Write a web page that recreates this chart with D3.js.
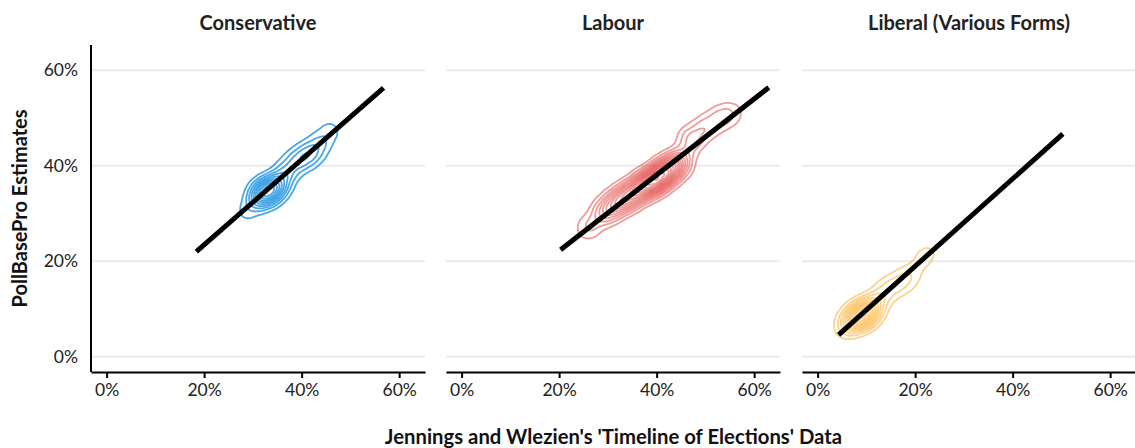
<!DOCTYPE html>
<html>
<head>
<meta charset="utf-8">
<script src="https://cdn.jsdelivr.net/npm/d3@7"></script>
<style>
  body { margin: 0; background: #fff; }
  text { font-family: Lato, "Open Sans", sans-serif; }
</style>
</head>
<body>
<svg id="chart" width="1135" height="448"></svg>
<script>
// facets
var parties = ["Conservative", "Labour", "Liberal (Various Forms)"];
var partyColours = ["#0087DC", "#DC241F", "#FAA61A"];
var partyOpacity = [0.72, 0.45, 0.5];
var tickValues = [0, 0.2, 0.4, 0.6];

// density centres [x, y, weight]
var conDensity = [
    [0.285, 0.30, 1], [0.31, 0.33, 3], [0.325, 0.345, 5], [0.34, 0.35, 4],
    [0.355, 0.365, 3], [0.37, 0.39, 2], [0.39, 0.41, 2], [0.41, 0.42, 2],
    [0.425, 0.43, 1.6], [0.44, 0.45, 1.4], [0.46, 0.475, 1.1]
];
var labDensity = [
    [0.26, 0.27, 1], [0.29, 0.30, 1.5], [0.31, 0.315, 2], [0.33, 0.33, 2.5],
    [0.35, 0.34, 2.5], [0.37, 0.355, 3], [0.39, 0.365, 4], [0.41, 0.38, 4],
    [0.43, 0.395, 3.5], [0.45, 0.41, 1.8], [0.47, 0.455, 1.6], [0.50, 0.48, 1.2],
    [0.53, 0.50, 1.0], [0.555, 0.51, 0.7]
];
var libDensity = [
    [0.06, 0.065, 2.5], [0.08, 0.08, 5.5], [0.095, 0.09, 5.5], [0.11, 0.10, 3.5],
    [0.125, 0.12, 1.6], [0.14, 0.14, 1.3], [0.16, 0.15, 1.3], [0.18, 0.16, 1.3],
    [0.195, 0.175, 0.9], [0.215, 0.205, 0.9], [0.23, 0.22, 0.7]
];
var densities = [conDensity, labDensity, libDensity];

// fitted line end points [x1, y1, x2, y2]
var conFit = [0.184, 0.220, 0.568, 0.563];
var labFit = [0.203, 0.224, 0.630, 0.564];
var libFit = [0.043, 0.046, 0.503, 0.467];
var fits = [conFit, labFit, libFit];

window.onload = function(){
    drawChart();
};

function drawChart(){
    let svg = d3.select("#chart");

    let panelLeft = [91, 446, 802];
    let panelTop = 45;
    let panelW = 334;
    let panelH = 327;
    let levels = [11, 11, 16];

    let xScale = d3.scaleLinear().domain([-0.032, 0.653]).range([0, panelW]);
    let yScale = d3.scaleLinear().domain([-0.032, 0.653]).range([panelH, 0]);

    parties.forEach(function(party, i){
        let g = svg.append("g")
            .attr("transform", "translate(" + panelLeft[i] + "," + panelTop + ")");

        // horizontal grid only
        g.selectAll("line.grid").data(tickValues)
            .enter()
            .append("line")
            .attr("class", "grid")
            .attr("x1", 0).attr("x2", panelW)
            .attr("y1", function(d){ return yScale(d); })
            .attr("y2", function(d){ return yScale(d); })
            .attr("stroke", "#ebebeb")
            .attr("stroke-width", 2);

        // density contours
        let contours = d3.contourDensity()
            .x(function(d){ return xScale(d[0]); })
            .y(function(d){ return yScale(d[1]); })
            .weight(function(d){ return d[2]; })
            .size([panelW, panelH])
            .cellSize(2)
            .bandwidth(8)
            .thresholds(levels[i])(densities[i]);

        g.selectAll("path.dens").data(contours)
            .enter()
            .append("path")
            .attr("class", "dens")
            .attr("d", d3.geoPath())
            .attr("fill", "none")
            .attr("stroke", partyColours[i])
            .attr("stroke-opacity", partyOpacity[i])
            .attr("stroke-width", 1.8);

        // fitted line
        let f = fits[i];
        g.append("line")
            .attr("x1", xScale(f[0])).attr("y1", yScale(f[1]))
            .attr("x2", xScale(f[2])).attr("y2", yScale(f[3]))
            .attr("stroke", "#000")
            .attr("stroke-width", 5);

        // x axis
        let xAxis = g.append("g")
            .attr("transform", "translate(0," + panelH + ")")
            .call(d3.axisBottom(xScale)
                .tickValues(tickValues)
                .tickFormat(d3.format(".0%"))
                .tickSize(6)
                .tickSizeOuter(0));
        xAxis.select(".domain").attr("stroke", "#000").attr("stroke-width", 2);
        xAxis.selectAll(".tick line").attr("stroke", "#000").attr("stroke-width", 2);
        xAxis.selectAll(".tick text")
            .attr("font-size", 17.5).attr("fill", "#222").attr("dy", "0.85em")
            .style("font-family", "Lato, sans-serif");

        // y axis on first panel only
        if (i === 0){
            g.append("line")
                .attr("x1", 0).attr("x2", 0)
                .attr("y1", 0).attr("y2", panelH)
                .attr("stroke", "#000").attr("stroke-width", 2);
            g.selectAll("text.ylab").data(tickValues)
                .enter()
                .append("text")
                .attr("class", "ylab")
                .attr("x", -13)
                .attr("y", function(d){ return yScale(d); })
                .attr("dy", "0.35em")
                .attr("text-anchor", "end")
                .attr("font-size", 17.5)
                .attr("fill", "#222")
                .text(d3.format(".0%"));
        }

        // facet title
        svg.append("text")
            .attr("x", panelLeft[i] + panelW / 2)
            .attr("y", 30)
            .attr("text-anchor", "middle")
            .attr("font-size", 20)
            .attr("font-weight", "bold")
            .attr("fill", "#222")
            .text(party);
    });

    // axis titles
    svg.append("text")
        .attr("x", (panelLeft[0] + panelLeft[2] + panelW) / 2)
        .attr("y", 444)
        .attr("text-anchor", "middle")
        .attr("font-size", 20.3)
        .attr("font-weight", "bold")
        .attr("fill", "#111")
        .text("Jennings and Wlezien's 'Timeline of Elections' Data");

    svg.append("text")
        .attr("transform", "translate(27," + (panelTop + panelH / 2) + ") rotate(-90)")
        .attr("text-anchor", "middle")
        .attr("font-size", 20)
        .attr("font-weight", "bold")
        .attr("fill", "#111")
        .text("PollBasePro Estimates");
}
</script>
</body>
</html>
